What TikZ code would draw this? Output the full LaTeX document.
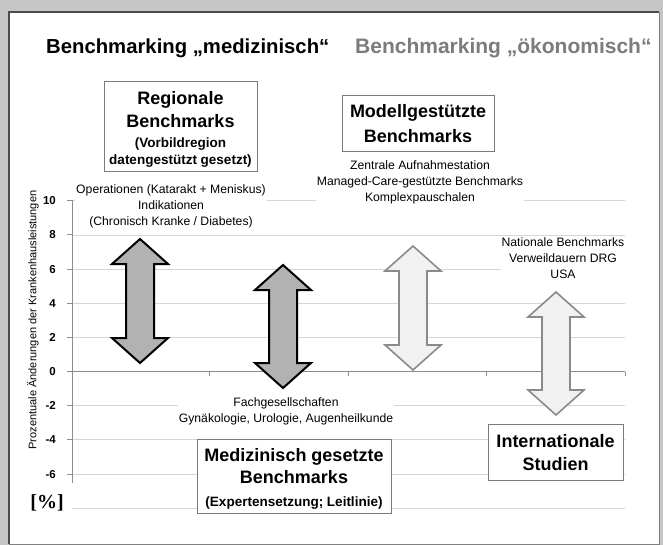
\documentclass[tikz,border=0pt]{standalone}
\usepackage{fontspec}
\setmainfont{Liberation Sans}
\newfontfamily\serifbf{Liberation Serif}
\definecolor{bgc}{HTML}{C6C6C6}
\definecolor{framec}{HTML}{4A4A4A}
\definecolor{gridc}{HTML}{D6D6D6}
\definecolor{axisc}{HTML}{8C8C8C}
\definecolor{boxline}{HTML}{7A7A7A}
\definecolor{arrdark}{HTML}{B2B2B2}
\definecolor{arrlight}{HTML}{F1F1F1}
\definecolor{arrline}{HTML}{8A8A8A}
\definecolor{titlegray}{HTML}{7C7C7C}
\newcommand\DblArrow[4]{%
  \path[#1] (#2,#3) -- ++(28,25) -- ++(-14,0) -- (#2+14,#4-25) -- ++(14,0)
    -- (#2,#4) -- ++(-28,-25) -- ++(14,0) -- (#2-14,#3+25) -- ++(-14,0) -- cycle;}
\tikzset{
  gridln/.style={draw=gridc, line width=0.9pt},
  txt/.style={fill=white, inner sep=1pt, align=center, font=\fontsize{12.2}{16}\selectfont},
  boxc/.style={draw=boxline, line width=1pt, fill=white, inner sep=0pt},
  bigb/.style={font=\fontsize{18}{22}\selectfont\bfseries, inner sep=0pt, anchor=base},
  midb/.style={font=\fontsize{13.5}{16}\selectfont\bfseries, inner sep=0pt, anchor=base},
  ticklab/.style={font=\fontsize{11.5}{13}\selectfont\bfseries, inner sep=0pt, anchor=base east},
  darkarrow/.style={fill=arrdark, draw=black, line width=2pt, line join=miter},
  lightarrow/.style={fill=arrlight, draw=arrline, line width=1.6pt, line join=miter},
}
\begin{document}
\begin{tikzpicture}[x=1pt,y=-1pt]
\useasboundingbox (0,0) rectangle (663,545);
% background and panel
\fill[bgc] (0,0) rectangle (663,545);
\fill[white] (9,12) rectangle (659,544);
\draw[framec, line width=1.6pt] (9,544) -- (9,12) -- (659,12);
\draw[framec!70, line width=0.8pt] (659,12) -- (659,544) -- (9,544);
% grid lines
\foreach \v in {10,8,6,4,2,-2,-4,-6,-8}{
  \pgfmathsetmacro\yy{371.6-17.08*\v}
  \draw[gridln] (72,\yy) -- (625,\yy);
}
% axes
\draw[axisc, line width=1pt] (72,200) -- (72,483);
\draw[axisc, line width=1.3pt] (72,371.6) -- (625,371.6);
\foreach \xx in {209,348,486,625}{\draw[axisc, line width=1pt] (\xx,371.6) -- (\xx,376);}
\foreach \v in {10,8,...,-6}{
  \pgfmathsetmacro\yy{371.6-17.08*\v}
  \draw[axisc, line width=1pt] (67,\yy) -- (72,\yy);
  \node[ticklab] (tick\v) at (56,\yy+4) {\v};
}
\node[rotate=90, inner sep=0pt, font=\fontsize{11}{13}\selectfont] (ylab) at (33,320)
  {Prozentuale Änderungen der Krankenhausleistungen};
\node[inner sep=0pt, font=\serifbf\fontsize{20}{22}\selectfont\bfseries] (pct) at (47,503) {[\%]};
% titles
\node[inner sep=0pt, anchor=base west, font=\fontsize{20.3}{24}\selectfont\bfseries] (t1) at (46,54)
  {Benchmarking „medizinisch“};
\node[inner sep=0pt, anchor=base west, text=titlegray, font=\fontsize{21}{24}\selectfont\bfseries] (t2) at (355,54)
  {Benchmarking „ökonomisch“};
% arrows
\DblArrow{darkarrow}{140}{239}{363}
\DblArrow{darkarrow}{283}{265}{388}
\DblArrow{lightarrow}{413}{246}{370}
\DblArrow{lightarrow}{556}{292}{415}
% Regionale box
\node[boxc, minimum width=153pt, minimum height=90pt] (regbox) at (180.5,127) {};
\node[bigb] (reg1) at (180.5,104.5) {Regionale};
\node[bigb] (reg2) at (180.5,127.5) {Benchmarks};
\node[midb] (reg3) at (180.5,147.5) {(Vorbildregion};
\node[midb] (reg4) at (180.5,164.5) {datengestützt gesetzt)};
\node[txt] (optext) at (171,206)
  {Operationen (Katarakt + Meniskus)\\Indikationen\\(Chronisch Kranke / Diabetes)};
% Modellgestuetzte box
\node[boxc, minimum width=152pt, minimum height=56pt] (modbox) at (418,124) {};
\node[bigb] (mod1) at (418,117.5) {Modellgestützte};
\node[bigb] (mod2) at (418,142.5) {Benchmarks};
\node[txt] (modtext) at (420,182)
  {Zentrale Aufnahmestation\\Managed-Care-gestützte Benchmarks\\Komplexpauschalen};
% Nationale
\node[txt] (nattext) at (563,258)
  {Nationale Benchmarks\\Verweildauern DRG\\USA};
% Fachgesellschaften
\node[txt] (fachtext) at (286,411.5)
  {Fachgesellschaften\\Gynäkologie, Urologie, Augenheilkunde};
% Medizinisch box
\node[boxc, minimum width=194pt, minimum height=74pt] (medbox) at (294,476) {};
\node[bigb] (med1) at (294,461.5) {Medizinisch gesetzte};
\node[bigb] (med2) at (294,483.5) {Benchmarks};
\node[midb] (med3) at (294,506) {(Expertensetzung; Leitlinie)};
% Internationale box
\node[boxc, minimum width=135pt, minimum height=56pt] (intbox) at (555.5,452) {};
\node[bigb] (int1) at (555.5,447.5) {Internationale};
\node[bigb] (int2) at (555.5,470.5) {Studien};
\end{tikzpicture}
\end{document}
